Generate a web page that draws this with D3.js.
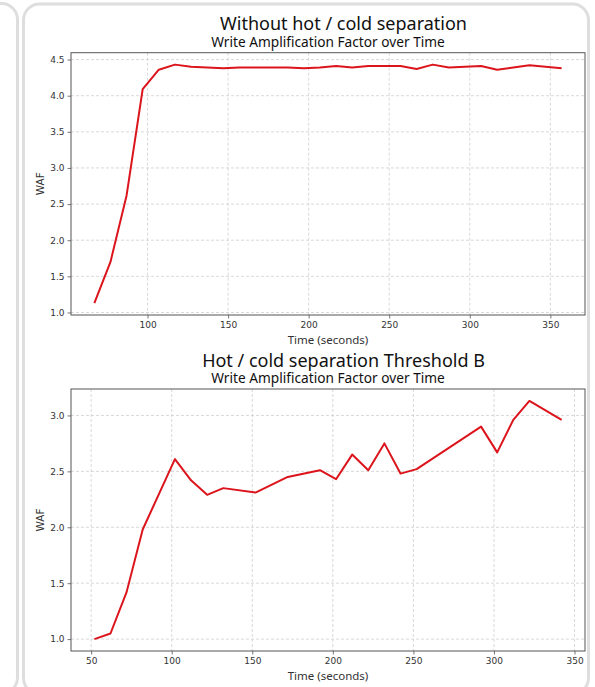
<!DOCTYPE html>
<html>
<head>
<meta charset="utf-8">
<script src="https://cdn.jsdelivr.net/npm/d3@7"></script>
<style>
  body { margin: 0; background: #fff; }
  svg { display: block; }
</style>
</head>
<body>
<div id="chart-container"></div>
<script>
{ // start block scope

  // data
  const timeA = [67, 77, 87, 97, 107, 117, 127, 137, 147, 157, 167, 177, 187, 197, 207,
                 217, 227, 237, 247, 257, 267, 277, 287, 297, 307, 317, 327, 337, 347, 357];
  const wafA = [1.13, 1.70, 2.62, 4.09, 4.36, 4.43, 4.40, 4.39, 4.38, 4.39, 4.39, 4.39, 4.39, 4.38, 4.39,
                4.41, 4.39, 4.41, 4.41, 4.41, 4.37, 4.43, 4.39, 4.40, 4.41, 4.36, 4.39, 4.42, 4.40, 4.38];

  const timeB = [52, 62, 72, 82, 102, 112, 122, 132, 152, 172, 192, 202, 212, 222, 232,
                 242, 252, 292, 302, 312, 322, 342];
  const wafB = [1.00, 1.05, 1.42, 1.98, 2.61, 2.42, 2.29, 2.35, 2.31, 2.45, 2.51, 2.43, 2.65, 2.51, 2.75,
                2.48, 2.52, 2.90, 2.67, 2.96, 3.13, 2.96];

  const xTicksA = [100, 150, 200, 250, 300, 350];
  const yTicksA = [1.0, 1.5, 2.0, 2.5, 3.0, 3.5, 4.0, 4.5];
  const xTicksB = [50, 100, 150, 200, 250, 300, 350];
  const yTicksB = [1.0, 1.5, 2.0, 2.5, 3.0];

  const color = {
    line: '#dc141c',
    spine: '#555555',
    grid: '#cfcfcf',
    text: '#333333',
    card: '#dedede'
  };

  const W = 595, H = 687;

  const svg = d3.select('#chart-container')
    .append('svg')
    .attr('width', W)
    .attr('height', H);

  // cards behind the charts
  svg.append('rect')
    .attr('x', -200).attr('y', 3.5)
    .attr('width', 217.5).attr('height', 690)
    .attr('rx', 16)
    .attr('fill', 'none')
    .attr('stroke', color.card)
    .attr('stroke-width', 3);
  svg.append('rect')
    .attr('x', 23.5).attr('y', 4)
    .attr('width', 565).attr('height', 690)
    .attr('rx', 16)
    .attr('fill', 'none')
    .attr('stroke', color.card)
    .attr('stroke-width', 3);

  drawPanel({
    times: timeA, values: wafA, xTicks: xTicksA, yTicks: yTicksA,
    top: 52.7, bottom: 315,
    title: 'Without hot / cold separation', titleY: 30, subY: 46.5
  });

  drawPanel({
    times: timeB, values: wafB, xTicks: xTicksB, yTicks: yTicksB,
    top: 389, bottom: 651,
    title: 'Hot / cold separation Threshold B', titleY: 366.5, subY: 382.5
  });

  function padded(ext) {
    const pad = (ext[1] - ext[0]) * 0.05;
    return [ext[0] - pad, ext[1] + pad];
  }

  function drawPanel(p) {
    const left = 71, right = 585;

    const xScale = d3.scaleLinear()
      .domain(padded(d3.extent(p.times)))
      .range([left, right]);
    const yScale = d3.scaleLinear()
      .domain(padded(d3.extent(p.values)))
      .range([p.bottom, p.top]);

    const g = svg.append('g');

    // grid
    g.append('g').selectAll('line')
      .data(p.xTicks)
      .join('line')
      .attr('x1', d => xScale(d)).attr('x2', d => xScale(d))
      .attr('y1', p.top).attr('y2', p.bottom)
      .attr('stroke', color.grid)
      .attr('stroke-width', 0.8)
      .attr('stroke-dasharray', '3,2');
    g.append('g').selectAll('line')
      .data(p.yTicks)
      .join('line')
      .attr('x1', left).attr('x2', right)
      .attr('y1', d => yScale(d)).attr('y2', d => yScale(d))
      .attr('stroke', color.grid)
      .attr('stroke-width', 0.8)
      .attr('stroke-dasharray', '3,2');

    // axes
    const xAxis = d3.axisBottom(xScale)
      .tickValues(p.xTicks)
      .tickFormat(d3.format('d'))
      .tickSizeOuter(0)
      .tickSize(3.5)
      .tickPadding(3);
    const xg = g.append('g')
      .attr('transform', `translate(0, ${p.bottom})`)
      .call(xAxis);

    const yAxis = d3.axisLeft(yScale)
      .tickValues(p.yTicks)
      .tickFormat(d3.format('.1f'))
      .tickSizeOuter(0)
      .tickSize(3.5)
      .tickPadding(3);
    const yg = g.append('g')
      .attr('transform', `translate(${left}, 0)`)
      .call(yAxis);

    [xg, yg].forEach(a => {
      a.select('.domain').remove();
      a.selectAll('line').attr('stroke', color.spine).attr('stroke-width', 0.8);
      a.selectAll('text')
        .attr('fill', color.text)
        .style('font-family', '"DejaVu Sans", sans-serif')
        .style('font-size', '9px');
    });

    // frame
    g.append('rect')
      .attr('x', left).attr('y', p.top)
      .attr('width', right - left).attr('height', p.bottom - p.top)
      .attr('fill', 'none')
      .attr('stroke', color.spine)
      .attr('stroke-width', 1);

    // line
    const line = d3.line()
      .x((d, i) => xScale(p.times[i]))
      .y(d => yScale(d));
    g.append('path')
      .datum(p.values)
      .attr('d', line)
      .attr('fill', 'none')
      .attr('stroke', color.line)
      .attr('stroke-width', 2)
      .attr('stroke-linejoin', 'round');

    // labels
    g.append('text')
      .attr('x', 343.5).attr('y', p.titleY)
      .attr('text-anchor', 'middle')
      .attr('fill', '#111')
      .style('font-family', '"Noto Sans", sans-serif')
      .style('font-size', '18px')
      .text(p.title);
    g.append('text')
      .attr('x', (left + right) / 2).attr('y', p.subY)
      .attr('text-anchor', 'middle')
      .attr('fill', '#111')
      .style('font-family', '"Noto Sans", sans-serif')
      .style('font-size', '13.7px')
      .text('Write Amplification Factor over Time');
    g.append('text')
      .attr('x', (left + right) / 2).attr('y', p.bottom + 29)
      .attr('text-anchor', 'middle')
      .attr('fill', color.text)
      .style('font-family', '"Noto Sans", sans-serif')
      .style('font-size', '11.5px')
      .text('Time (seconds)');
    g.append('text')
      .attr('transform', `translate(44, ${(p.top + p.bottom) / 2}) rotate(-90)`)
      .attr('text-anchor', 'middle')
      .attr('fill', color.text)
      .style('font-family', '"DejaVu Sans", sans-serif')
      .style('font-size', '10.5px')
      .text('WAF');
  }

} // end block scope
</script>
</body>
</html>
